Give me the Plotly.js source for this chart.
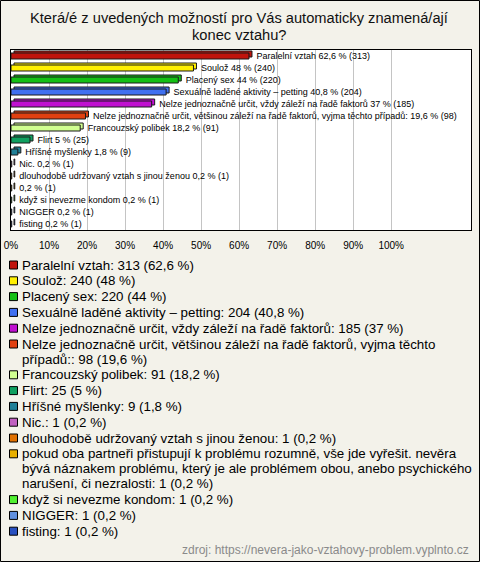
<!DOCTYPE html>
<html><head><meta charset="utf-8">
<script src="https://cdn.plot.ly/plotly-3.0.1.min.js"></script>
<style>html,body{margin:0;padding:0;background:#f3f2ea;} #chart{width:480px;height:562px;}</style>
</head><body><div id="chart"></div>
<script>
const categories = [
  "Paralelní vztah",
  "Soulož",
  "Placený sex",
  "Sexuálně laděné aktivity – petting",
  "Nelze jednoznačně určit, vždy záleží na řadě faktorů",
  "Nelze jednoznačně určit, většinou záleží na řadě faktorů, vyjma těchto případů:",
  "Francouzský polibek",
  "Flirt",
  "Hříšné myšlenky",
  "Nic.",
  "dlouhodobě udržovaný vztah s jinou ženou",
  "pokud oba partneři přistupují k problému rozumně, vše jde vyřešit. nevěra bývá náznakem problému, který je ale problémem obou, anebo psychického narušení, či nezralosti",
  "když si nevezme kondom",
  "NIGGER",
  "fisting"
];
const counts = [313, 240, 220, 204, 185, 98, 91, 25, 9, 1, 1, 1, 1, 1, 1];
const percents = [62.6, 48, 44, 40.8, 37, 19.6, 18.2, 5, 1.8, 0.2, 0.2, 0.2, 0.2, 0.2, 0.2];
const colors = ["#c0140c", "#fff000", "#14c014", "#4070f0", "#c010d0", "#e04010", "#d0ff90",
                "#10a060", "#208098", "#c060c0", "#e07000", "#e8b000", "#50f030", "#6090e0", "#2850c0"];
const tickValues = [0, 10, 20, 30, 40, 50, 60, 70, 80, 90, 100];
const tickLabels = ["0%", "10%", "20%", "30%", "40%", "50%", "60%", "70%", "80%", "90%", "100%"];
const titleLines = ["Která/é z uvedených možností pro Vás automaticky znamená/ají", "konec vztahu?"];
const sourceText = "zdroj: https://nevera-jako-vztahovy-problem.vyplnto.cz";

const FONT = "Liberation Sans, Arial, sans-serif";
const W = 480, H = 562;
const M = {l: 11, r: 9, t: 50, b: 332};
const PW = W - M.l - M.r, PH = H - M.t - M.b;
const XMAX = 121;
const px2x = px => (px - M.l) / PW;
const py2y = py => (H - M.b - py) / PH;

const fmt = p => String(p).replace('.', ',');
const barText = categories.map((c, i) =>
  (c.length > 120 ? '' : c + ' ') + fmt(percents[i]) + ' % (' + counts[i] + ')');
const legendText = categories.map((c, i) => c + ': ' + counts[i] + ' (' + fmt(percents[i]) + ' %)');

function wrap(s, maxChars) {
  const words = s.split(' ');
  const lines = [];
  let cur = '';
  for (const w of words) {
    const t = cur ? cur + ' ' + w : w;
    if (t.length > maxChars && cur) { lines.push(cur); cur = w; } else cur = t;
  }
  if (cur) lines.push(cur);
  return lines;
}

const annotations = [];
const shapes = [];
// title
titleLines.forEach((t, k) => annotations.push({
  xref: 'paper', yref: 'paper', x: px2x(239), y: py2y(18.5 + 16.5 * k),
  xanchor: 'center', yanchor: 'middle', showarrow: false, text: t,
  font: {family: FONT, size: 14.67, color: '#111'}
}));
// legend (manual)
let ly = 265;
const ITEM = 15.8, LINE = 15;
legendText.forEach((t, i) => {
  const lines = wrap(t, 74);
  shapes.push({type: 'rect', xref: 'paper', yref: 'paper',
    x0: px2x(9.5), x1: px2x(17.5), y0: py2y(ly - 4), y1: py2y(ly + 4),
    fillcolor: colors[i], line: {color: '#000', width: 1}});
  lines.forEach((ln, k) => {
    annotations.push({xref: 'paper', yref: 'paper', x: px2x(20), y: py2y(ly + LINE * k),
      xanchor: 'left', yanchor: 'middle', showarrow: false, text: ln,
      font: {family: FONT, size: 13.33, color: '#000'}});
  });
  ly += ITEM + LINE * (lines.length - 1);
});
// source
annotations.push({xref: 'paper', yref: 'paper', x: px2x(471), y: py2y(550),
  xanchor: 'right', yanchor: 'middle', showarrow: false, text: sourceText,
  font: {family: FONT, size: 12, color: '#8a8a8a'}});
// outer border
shapes.push({type: 'rect', xref: 'paper', yref: 'paper', layer: 'above',
  x0: px2x(0.5), x1: px2x(479.5), y0: py2y(561.5), y1: py2y(0.5),
  line: {color: '#000', width: 1}, fillcolor: 'rgba(0,0,0,0)'});

// 3D depth: back face shifted up/right by a few pixels
const depthX = 3 * XMAX / PW;       // ~3 px in data units
const depthY = 2 / (PH / categories.length); // ~2 px in category units
const back = {
  type: 'bar', orientation: 'h', y: categories, x: percents,
  base: depthX, width: 0.5, offset: -0.25 - depthY,
  marker: {color: colors, line: {color: '#1a1a1a', width: 1}},
  hoverinfo: 'none', cliponaxis: false
};
const front = {
  type: 'bar', orientation: 'h', y: categories, x: percents,
  width: 0.5, offset: -0.25,
  marker: {color: colors, line: {color: '#1a1a1a', width: 1}},
  text: barText, texttemplate: '\u00a0\u00a0\u00a0%{text}', textposition: 'outside',
  textfont: {family: FONT, size: 9, color: '#000'},
  cliponaxis: false, constraintext: 'none', hoverinfo: 'none'
};

const layout = {
  width: W, height: H, margin: M,
  paper_bgcolor: '#f3f2ea', plot_bgcolor: '#ffffff',
  showlegend: false, barmode: 'overlay',
  xaxis: {range: [0, XMAX], tickvals: tickValues, ticktext: tickLabels,
    showgrid: true, gridcolor: '#c4c4c4', gridwidth: 1, zeroline: false,
    showline: true, mirror: true, linecolor: '#000', linewidth: 1, ticks: '',
    tickfont: {family: FONT, size: 10, color: '#000'}, ticklabelstandoff: 6, fixedrange: true},
  yaxis: {type: 'category', categoryorder: 'array', categoryarray: categories,
    range: [14.5, -0.5], showticklabels: false, showgrid: false, zeroline: false,
    showline: true, mirror: true, linecolor: '#000', linewidth: 1, ticks: '', fixedrange: true},
  annotations: annotations, shapes: shapes
};

Plotly.newPlot('chart', [back, front], layout, {displayModeBar: false, staticPlot: true});
</script>
</body></html>
